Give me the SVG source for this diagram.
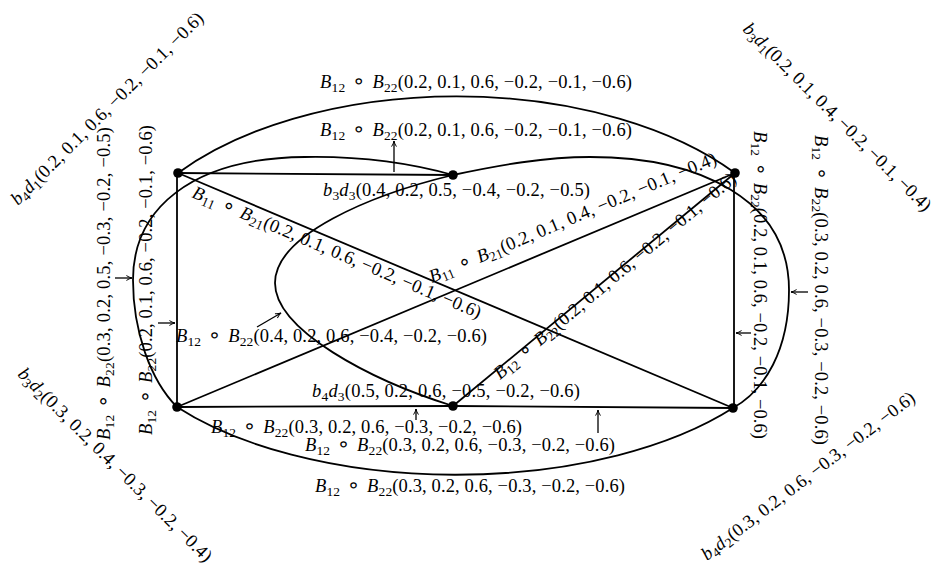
<svg xmlns="http://www.w3.org/2000/svg" width="933" height="565" viewBox="0 0 933 565">
<style>
.e{fill:none;stroke:#000;stroke-width:1.8}
.a{fill:none;stroke:#000;stroke-width:1.3;marker-end:url(#ah)}
.n{fill:#000}
.t{font-family:"Liberation Serif","DejaVu Serif",serif;font-size:18.5px;fill:#000}
.i{font-style:italic}
.s{font-size:13.5px}
.o{font-family:"DejaVu Sans","DejaVu Serif",sans-serif;font-size:21px}
</style>
<defs>
<marker id="ah" viewBox="0 0 10 10" refX="9" refY="5" markerWidth="7" markerHeight="7" markerUnits="userSpaceOnUse" orient="auto">
<path d="M1,1.5 Q5,4.2 9,5 Q5,5.8 1,8.5" fill="none" stroke="#000" stroke-width="1.4"/>
</marker>
</defs>
<rect width="933" height="565" fill="#fff"/>
<g id="connectors">
<path class="e" d="M178,173 L453,175"/>
<path class="e" d="M177,173 L177,407"/>
<path class="e" d="M734,173 L734,408"/>
<path class="e" d="M178,173 L733,408"/>
<path class="e" d="M177,407 L735,173"/>
<path class="e" d="M453,406 L735,173"/>
<path class="e" d="M177,407 L453,406 L733,408"/>
<path class="e" d="M178,173 A349,193 0 0 1 735,173"/>
<path class="e" d="M177,407 A349,170 0 0 0 733,408"/>
<path class="e" d="M177,407 C150,380 133,330 133,280 C133,210 190,158 305,157 C360,156 410,163 453,175"/>
<path class="e" d="M453,175 C370,195 275,235 275,283 C275,330 370,380 453,406"/>
<path class="e" d="M453,175 C500,165 545,157 590,157 C700,157 789,200 789,290 C789,350 765,390 733,408"/>
<path class="a" d="M394,172 L394,141"/>
<path class="a" d="M257,327 L281,313"/>
<path class="a" d="M115,278 L132,278"/>
<path class="a" d="M158,323 L175,323"/>
<path class="a" d="M751,333 L736,333"/>
<path class="a" d="M808,292 L791,292"/>
<path class="a" d="M416,420 L416,409"/>
<path class="a" d="M598,433 L598,410"/>
</g>
<g id="node-A"><circle class="n" cx="178" cy="173" r="4.8"/></g>
<g id="node-B"><circle class="n" cx="453" cy="175" r="4.8"/></g>
<g id="node-C"><circle class="n" cx="735" cy="173" r="4.8"/></g>
<g id="node-D"><circle class="n" cx="177" cy="407" r="4.8"/></g>
<g id="node-E"><circle class="n" cx="453" cy="406" r="4.8"/></g>
<g id="node-F"><circle class="n" cx="733" cy="408" r="4.8"/></g>
<g id="labels">
<text class="t" x="320" y="88" textLength="312"><tspan class="i">B</tspan><tspan class="s" dy="3.5">12</tspan><tspan class="o" dy="-3.5"> ∘ </tspan><tspan class="i">B</tspan><tspan class="s" dy="3.5">22</tspan><tspan dy="-3.5">(0.2, 0.1, 0.6, −0.2, −0.1, −0.6)</tspan></text>
<text class="t" x="320" y="136" textLength="312"><tspan class="i">B</tspan><tspan class="s" dy="3.5">12</tspan><tspan class="o" dy="-3.5"> ∘ </tspan><tspan class="i">B</tspan><tspan class="s" dy="3.5">22</tspan><tspan dy="-3.5">(0.2, 0.1, 0.6, −0.2, −0.1, −0.6)</tspan></text>
<text class="t" x="323" y="196" textLength="267"><tspan class="i">b</tspan><tspan class="s" dy="3.5">3</tspan><tspan class="i" dy="-3.5">d</tspan><tspan class="s" dy="3.5">3</tspan><tspan dy="-3.5">(0.4, 0.2, 0.5, −0.4, −0.2, −0.5)</tspan></text>
<text class="t" transform="translate(191,197) rotate(22.95)" textLength="312"><tspan class="i">B</tspan><tspan class="s" dy="3.5">11</tspan><tspan class="o" dy="-3.5"> ∘ </tspan><tspan class="i">B</tspan><tspan class="s" dy="3.5">21</tspan><tspan dy="-3.5">(0.2, 0.1, 0.6, −0.2, −0.1, −0.6)</tspan></text>
<text class="t" transform="translate(432,283) rotate(-22.75)" textLength="310"><tspan class="i">B</tspan><tspan class="s" dy="3.5">11</tspan><tspan class="o" dy="-3.5"> ∘ </tspan><tspan class="i">B</tspan><tspan class="s" dy="3.5">21</tspan><tspan dy="-3.5">(0.2, 0.1, 0.4, −0.2, −0.1, −0.4)</tspan></text>
<text class="t" transform="translate(500,380) rotate(-40)" textLength="310"><tspan class="i">B</tspan><tspan class="s" dy="3.5">12</tspan><tspan class="o" dy="-3.5"> ∘ </tspan><tspan class="i">B</tspan><tspan class="s" dy="3.5">22</tspan><tspan dy="-3.5">(0.2, 0.1, 0.6, −0.2, −0.1, −0.6)</tspan></text>
<text class="t" x="176" y="342" textLength="311"><tspan class="i">B</tspan><tspan class="s" dy="3.5">12</tspan><tspan class="o" dy="-3.5"> ∘ </tspan><tspan class="i">B</tspan><tspan class="s" dy="3.5">22</tspan><tspan dy="-3.5">(0.4, 0.2, 0.6, −0.4, −0.2, −0.6)</tspan></text>
<text class="t" x="312" y="397" textLength="268"><tspan class="i">b</tspan><tspan class="s" dy="3.5">4</tspan><tspan class="i" dy="-3.5">d</tspan><tspan class="s" dy="3.5">3</tspan><tspan dy="-3.5">(0.5, 0.2, 0.6, −0.5, −0.2, −0.6)</tspan></text>
<text class="t" x="211" y="433" textLength="311"><tspan class="i">B</tspan><tspan class="s" dy="3.5">12</tspan><tspan class="o" dy="-3.5"> ∘ </tspan><tspan class="i">B</tspan><tspan class="s" dy="3.5">22</tspan><tspan dy="-3.5">(0.3, 0.2, 0.6, −0.3, −0.2, −0.6)</tspan></text>
<text class="t" x="305" y="451" textLength="310"><tspan class="i">B</tspan><tspan class="s" dy="3.5">12</tspan><tspan class="o" dy="-3.5"> ∘ </tspan><tspan class="i">B</tspan><tspan class="s" dy="3.5">22</tspan><tspan dy="-3.5">(0.3, 0.2, 0.6, −0.3, −0.2, −0.6)</tspan></text>
<text class="t" x="315" y="492" textLength="310"><tspan class="i">B</tspan><tspan class="s" dy="3.5">12</tspan><tspan class="o" dy="-3.5"> ∘ </tspan><tspan class="i">B</tspan><tspan class="s" dy="3.5">22</tspan><tspan dy="-3.5">(0.3, 0.2, 0.6, −0.3, −0.2, −0.6)</tspan></text>
<text class="t" transform="translate(110,440) rotate(-90)" textLength="313"><tspan class="i">B</tspan><tspan class="s" dy="3.5">12</tspan><tspan class="o" dy="-3.5"> ∘ </tspan><tspan class="i">B</tspan><tspan class="s" dy="3.5">22</tspan><tspan dy="-3.5">(0.3, 0.2, 0.5, −0.3, −0.2, −0.5)</tspan></text>
<text class="t" transform="translate(152,435) rotate(-90)" textLength="310"><tspan class="i">B</tspan><tspan class="s" dy="3.5">12</tspan><tspan class="o" dy="-3.5"> ∘ </tspan><tspan class="i">B</tspan><tspan class="s" dy="3.5">22</tspan><tspan dy="-3.5">(0.2, 0.1, 0.6, −0.2, −0.1, −0.6)</tspan></text>
<text class="t" transform="translate(754,131) rotate(90)" textLength="308"><tspan class="i">B</tspan><tspan class="s" dy="3.5">12</tspan><tspan class="o" dy="-3.5"> ∘ </tspan><tspan class="i">B</tspan><tspan class="s" dy="3.5">22</tspan><tspan dy="-3.5">(0.2, 0.1, 0.6, −0.2, −0.1, −0.6)</tspan></text>
<text class="t" transform="translate(815,135) rotate(90)" textLength="310"><tspan class="i">B</tspan><tspan class="s" dy="3.5">12</tspan><tspan class="o" dy="-3.5"> ∘ </tspan><tspan class="i">B</tspan><tspan class="s" dy="3.5">22</tspan><tspan dy="-3.5">(0.3, 0.2, 0.6, −0.3, −0.2, −0.6)</tspan></text>
<text class="t" transform="translate(18,206) rotate(-45)" textLength="264"><tspan class="i">b</tspan><tspan class="s" dy="3.5">4</tspan><tspan class="i" dy="-3.5">d</tspan><tspan class="s" dy="3.5">1</tspan><tspan dy="-3.5">(0.2, 0.1, 0.6, −0.2, −0.1, −0.6)</tspan></text>
<text class="t" transform="translate(742,30) rotate(45)" textLength="258"><tspan class="i">b</tspan><tspan class="s" dy="3.5">3</tspan><tspan class="i" dy="-3.5">d</tspan><tspan class="s" dy="3.5">1</tspan><tspan dy="-3.5">(0.2, 0.1, 0.4, −0.2, −0.1, −0.4)</tspan></text>
<text class="t" transform="translate(17,375) rotate(45)" textLength="266"><tspan class="i">b</tspan><tspan class="s" dy="3.5">3</tspan><tspan class="i" dy="-3.5">d</tspan><tspan class="s" dy="3.5">2</tspan><tspan dy="-3.5">(0.3, 0.2, 0.4, −0.3, −0.2, −0.4)</tspan></text>
<text class="t" transform="translate(707,561) rotate(-37.5)" textLength="264"><tspan class="i">b</tspan><tspan class="s" dy="3.5">4</tspan><tspan class="i" dy="-3.5">d</tspan><tspan class="s" dy="3.5">2</tspan><tspan dy="-3.5">(0.3, 0.2, 0.6, −0.3, −0.2, −0.6)</tspan></text>
</g>
</svg>
